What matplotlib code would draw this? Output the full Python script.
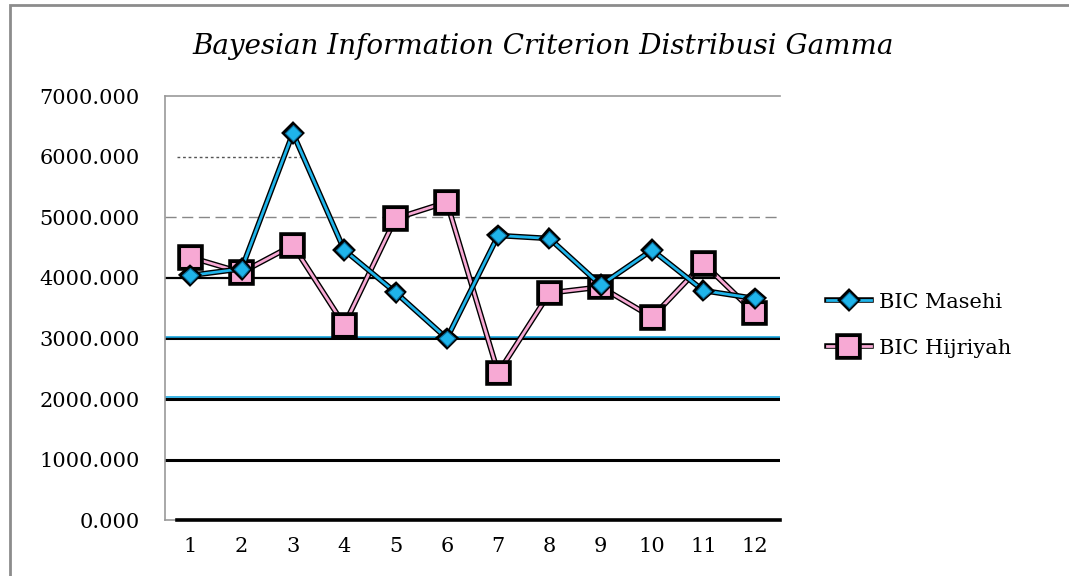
import matplotlib.pyplot as plt
import matplotlib.patheffects as pe
from matplotlib.patches import Rectangle

months = ['1', '2', '3', '4', '5', '6', '7', '8', '9', '10', '11', '12']
bic_masehi = [4040, 4150, 6390, 4460, 3760, 3000, 4700, 4650, 3880, 4460, 3790, 3660]
bic_hijriyah = [4340, 4090, 4540, 3220, 4980, 5250, 2430, 3750, 3850, 3350, 4240, 3420]
yticks = [0, 1000, 2000, 3000, 4000, 5000, 6000, 7000]

plt.rcParams['font.family'] = ['DejaVu Serif']

fig = plt.figure(figsize=(10.69, 5.76), dpi=100)
ax = fig.add_axes([0.154, 0.097, 0.576, 0.736])

# outer chart border (only left and top edges fall inside the picture)
fig.patches.append(Rectangle((0.0094, -0.05), 1.0, 1.041, transform=fig.transFigure,
                             fill=False, edgecolor='#8c8c8c', linewidth=2.0))

x = range(1, len(months) + 1)

# gridlines, each one drawn a bit differently like the scanned original
grid_styles = {
    1000: dict(color='black', linewidth=2.2, linestyle='-'),
    2000: dict(color='black', linewidth=2.2, linestyle='-'),
    3000: dict(color='black', linewidth=2.2, linestyle='-'),
    4000: dict(color='black', linewidth=1.6, linestyle='-'),
    5000: dict(color='#888888', linewidth=1.0, linestyle=(0, (8, 4))),
}
for val, st in grid_styles.items():
    ax.axhline(val, zorder=1, **st)
    if val in (2000, 3000):
        ax.axhline(val + 25, color='#1aa8e0', linewidth=1.2, zorder=1)
ax.axhline(0, color='black', linewidth=2.6, xmin=0.02, zorder=3, clip_on=False)
ax.axhline(6000, color='#555555', linewidth=1.0, linestyle=(0, (2, 2)),
           xmin=0.02, xmax=0.22, zorder=1)

outline = [pe.Stroke(linewidth=4.0, foreground='black'), pe.Normal()]
ax.plot(x, bic_masehi, color='#1fb4ea', linewidth=2.0, marker='D', markersize=8,
        markerfacecolor='#1fb4ea', markeredgecolor='#0a6c99', markeredgewidth=0.8,
        label='BIC Masehi', path_effects=outline, zorder=3)
ax.plot(x, bic_hijriyah, color='#f7a9d4', linewidth=2.0, marker='s', markersize=15,
        markerfacecolor='#f7a9d4', markeredgecolor='black', markeredgewidth=1.5,
        label='BIC Hijriyah', path_effects=outline, zorder=2)

ax.set_xlim(0.5, 12.5)
ax.set_ylim(0, 7000)
ax.set_xticks(list(x))
ax.set_xticklabels(months, fontsize=15)
ax.set_yticks(yticks)
ax.set_yticklabels(['%.3f' % v for v in yticks], fontsize=15)
ax.tick_params(axis='x', length=0, pad=12)
ax.tick_params(axis='y', length=0, pad=18)

ax.spines['right'].set_visible(False)
for s in ['left', 'top', 'bottom']:
    ax.spines[s].set_color('#999999')
    ax.spines[s].set_linewidth(1.2)

fig.text(0.508, 0.92, 'Bayesian Information Criterion Distribusi Gamma',
         ha='center', va='center', fontsize=20, style='italic')

leg = ax.legend(loc='center left', bbox_to_anchor=(1.045, 0.46), frameon=False,
                fontsize=15, handlelength=2.1, handletextpad=0.4, labelspacing=1.3)

fig.savefig('out.png', dpi=100)
